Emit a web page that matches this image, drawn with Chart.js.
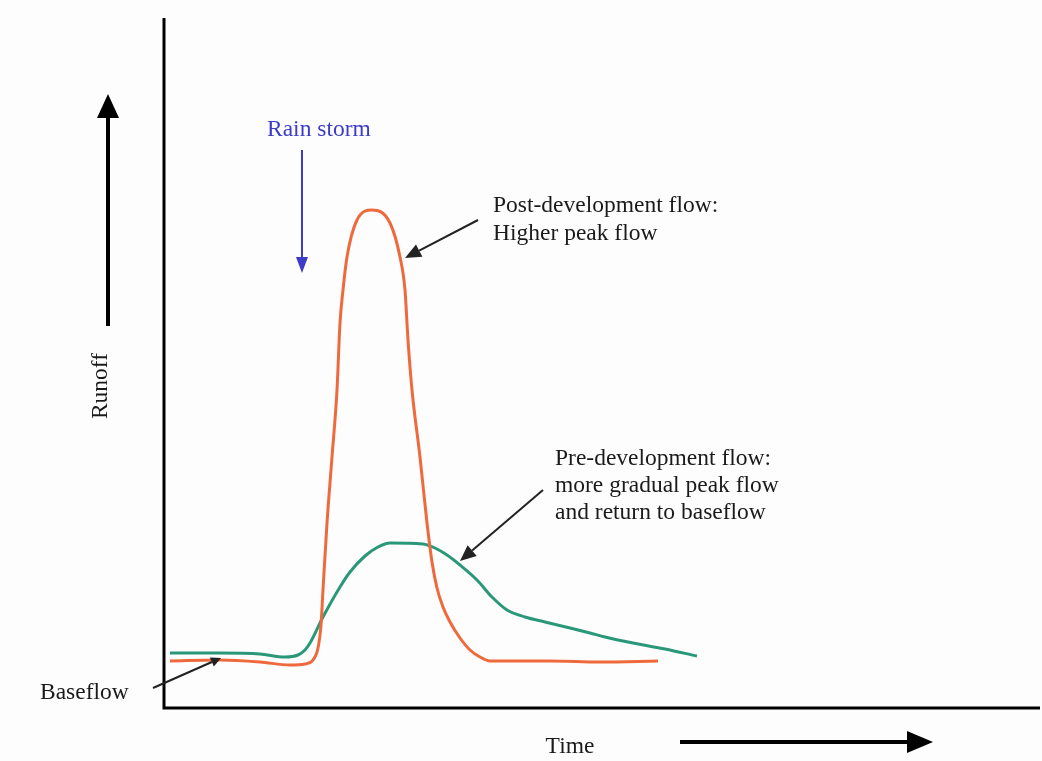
<!DOCTYPE html>
<html>
<head>
<meta charset="utf-8">
<script src="https://cdn.jsdelivr.net/npm/chart.js@4/dist/chart.umd.min.js"></script>
<style>
    html, body { margin: 0; padding: 0; background: #fff; }
    #wrap { width: 1042px; height: 761px; position: relative; }
</style>
</head>
<body>
<div id="wrap"><canvas id="runoff-chart"></canvas></div>
<script>
// time (x) and runoff (y) in arbitrary units
const postTime = [0.6, 5.6, 9.6, 12.6, 14.1, 14.9, 15.4, 15.7, 15.9, 16.3, 16.8, 17.3, 17.6, 17.9, 18.3, 19.3, 20.8,
    22.6, 23.6, 24.1, 24.4, 24.8, 25.6, 26.3, 26.8, 27.3, 27.9, 28.6, 29.6, 30.6, 31.6, 32.6, 38.6, 43.6, 49.4];
const postRunoff = [4.7, 4.8, 4.6, 4.3, 4.4, 4.8, 6.0, 8.3, 11.8, 18.5, 25.1, 31.8, 38.5, 41.8, 45.1, 48.8, 49.8,
    48.5, 45.1, 41.8, 36.8, 31.8, 25.1, 18.5, 14.6, 12.0, 10.1, 8.6, 7.0, 5.8, 5.1, 4.7, 4.7, 4.6, 4.7];

const preTime = [0.6, 5.6, 9.6, 12.1, 13.4, 14.1, 14.6, 15.9, 17.6, 18.6, 20.1, 21.4, 22.6, 25.9, 27.1, 28.3, 29.6,
    31.3, 32.8, 34.3, 36.1, 38.1, 40.6, 42.6, 44.1, 46.9, 50.1, 53.3];
const preRunoff = [5.5, 5.5, 5.4, 5.1, 5.3, 5.8, 6.5, 9.1, 12.1, 13.6, 15.2, 16.1, 16.5, 16.4, 16.0, 15.3, 14.3,
    12.8, 11.1, 9.8, 9.1, 8.6, 8.0, 7.5, 7.1, 6.5, 5.9, 5.2];

const seriesNames = ['Post-development flow', 'Pre-development flow'];
const timeRange = [0, 87.6];
const runoffRange = [0, 68.8];

function toPoints(xs, ys) {
    return xs.map((x, i) => ({ x: x, y: ys[i] }));
}

// filled arrow head at (x2,y2)
function arrow(ctx, x1, y1, x2, y2, color, width, headLen, headW) {
    const a = Math.atan2(y2 - y1, x2 - x1);
    const bx = x2 - headLen * Math.cos(a), by = y2 - headLen * Math.sin(a);
    ctx.save();
    ctx.strokeStyle = color;
    ctx.fillStyle = color;
    ctx.lineWidth = width;
    ctx.beginPath();
    ctx.moveTo(x1, y1);
    ctx.lineTo(bx, by);
    ctx.stroke();
    ctx.beginPath();
    ctx.moveTo(x2, y2);
    ctx.lineTo(bx + headW * Math.sin(a), by - headW * Math.cos(a));
    ctx.lineTo(bx - headW * Math.sin(a), by + headW * Math.cos(a));
    ctx.closePath();
    ctx.fill();
    ctx.restore();
}

const sketchPlugin = {
    id: 'sketch',
    beforeDraw(chart) {
        const ctx = chart.ctx;
        ctx.save();
        ctx.fillStyle = '#fdfdfd';
        ctx.fillRect(0, 0, chart.width, chart.height);
        ctx.restore();
    },
    afterDraw(chart) {
        const ctx = chart.ctx;
        const area = chart.chartArea;
        ctx.save();

        // axes
        ctx.strokeStyle = '#000';
        ctx.lineWidth = 3;
        ctx.beginPath();
        ctx.moveTo(area.left, area.top - 2);
        ctx.lineTo(area.left, area.bottom);
        ctx.lineTo(area.right, area.bottom);
        ctx.stroke();

        // direction arrows
        arrow(ctx, 108, 326, 108, 94, '#000', 4, 24, 11);
        arrow(ctx, 680, 742, 933, 742, '#000', 4, 26, 11);

        const font = '23.5px "Liberation Serif", "Times New Roman", serif';
        ctx.font = font;
        ctx.fillStyle = '#1a1a1a';
        ctx.textBaseline = 'alphabetic';
        ctx.textAlign = 'left';

        ctx.fillText('Post-development flow:', 493, 212);
        ctx.fillText('Higher peak flow', 493, 240);

        ctx.fillText('Pre-development flow:', 555, 465);
        ctx.fillText('more gradual peak flow', 555, 492);
        ctx.fillText('and return to baseflow', 555, 519);

        ctx.fillText('Baseflow', 40, 699);

        ctx.textAlign = 'center';
        ctx.fillText('Time', 570, 753);

        ctx.save();
        ctx.translate(101, 386);
        ctx.rotate(-Math.PI / 2);
        ctx.textBaseline = 'middle';
        ctx.fillText('Runoff', 0, 0);
        ctx.restore();

        ctx.textAlign = 'left';
        ctx.fillStyle = '#3c3cc8';
        ctx.fillText('Rain storm', 267, 136);

        // annotation arrows
        arrow(ctx, 302, 150, 302, 273, '#3c3cc8', 2, 16, 6);
        arrow(ctx, 478, 220, 405, 258, '#222', 2, 16, 7);
        arrow(ctx, 543, 490, 460, 561, '#222', 2, 16, 7);
        arrow(ctx, 153, 688, 221, 658, '#222', 2, 10, 5);

        ctx.restore();
    }
};

new Chart(document.getElementById('runoff-chart'), {
    type: 'line',
    data: {
        datasets: [{
            label: seriesNames[0],
            data: toPoints(postTime, postRunoff),
            borderColor: '#ee6a3c',
            borderWidth: 3,
            pointRadius: 0,
            cubicInterpolationMode: 'monotone',
            fill: false
        }, {
            label: seriesNames[1],
            data: toPoints(preTime, preRunoff),
            borderColor: '#2a9878',
            borderWidth: 3,
            pointRadius: 0,
            cubicInterpolationMode: 'monotone',
            fill: false
        }]
    },
    options: {
        responsive: true,
        maintainAspectRatio: false,
        animation: false,
        layout: { padding: { left: 164, top: 20, right: 2, bottom: 53 } },
        plugins: {
            legend: { display: false },
            tooltip: { enabled: false }
        },
        scales: {
            x: { type: 'linear', display: false, min: timeRange[0], max: timeRange[1] },
            y: { type: 'linear', display: false, min: runoffRange[0], max: runoffRange[1] }
        }
    },
    plugins: [sketchPlugin]
});
</script>
</body>
</html>
